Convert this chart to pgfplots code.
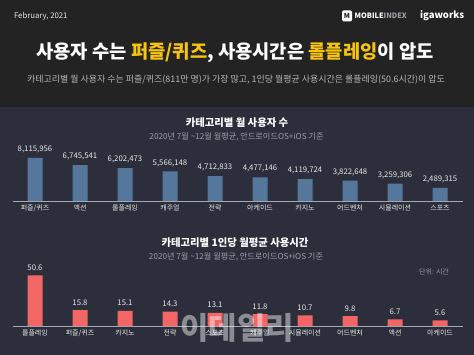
\documentclass[border=0pt]{standalone}
\usepackage{fontspec}
\setmainfont{Noto Sans CJK KR}
\usepackage{pgfplots}
\usepackage{pgfplotstable}
\pgfplotsset{compat=1.18}
\definecolor{hdr}{HTML}{232323}
\definecolor{panel}{HTML}{2C2F3B}
\definecolor{barblue}{HTML}{56779C}
\definecolor{barred}{HTML}{F26666}
\definecolor{basec}{HTML}{A3A8B2}
\definecolor{txtc}{HTML}{E6E6E6}
\definecolor{subc}{HTML}{9C9EA6}
\definecolor{yel}{HTML}{F6C40F}

\pgfplotstableread{
x y lab
0 8115956 8,115,956
1 6745541 6,745,541
2 6202473 6,202,473
3 5566148 5,566,148
4 4712833 4,712,833
5 4477146 4,477,146
6 4119724 4,119,724
7 3822648 3,822,648
8 3259306 3,259,306
9 2489315 2,489,315
}\usersdata

\pgfplotstableread{
x y
0 50.6
1 15.8
2 15.1
3 14.3
4 13.1
5 11.8
6 10.7
7 9.8
8 6.7
9 5.6
}\hoursdata

\pgfplotsset{
  mybars/.style={
    scale only axis, width=450bp,
    xmin=-0.5, xmax=9.5, ymin=0,
    enlargelimits=false,
    axis x line=bottom, axis y line=none,
    x axis line style={-, draw=basec, line width=0.7bp},
    xtick={0,...,9}, major tick length=0,
    xticklabel style={font=\fontsize{7}{8}\selectfont, text=txtc, yshift=-0.3bp},
    ybar, bar width=15bp,
    clip=false,
    every node near coord/.append style={font=\fontsize{7.8}{9}\selectfont, text=txtc, yshift=1.5bp},
  }
}

\begin{document}
\begin{tikzpicture}
\fill[hdr] (0bp,0bp) rectangle (474bp,355bp);
\fill[panel] (0bp,0bp) rectangle (474bp,248bp);

% header
\node[anchor=west, text=txtc, font=\fontsize{7.8}{9}\selectfont] at (10.5bp,339bp) {February, 2021};
\fill[white, rounded corners=1.5bp] (342bp,333.5bp) rectangle (352bp,344.5bp);
\node[text=hdr, font=\fontsize{7}{8}\selectfont\bfseries] at (347bp,339bp) {M};
\node[anchor=west, inner sep=0, text=white, font=\fontsize{7.4}{8}\selectfont\bfseries] at (354.5bp,339bp) {MOBILE\textcolor{subc}{INDEX}};
\node[anchor=west, inner sep=0, text=white, font=\fontsize{9.5}{10}\selectfont\bfseries] at (420bp,339.5bp) {igaworks};

\node[text=white, font=\fontsize{18.8}{22}\selectfont\bfseries] at (235bp,302.5bp)
  {사용자 수는 \textcolor{yel}{퍼즐/퀴즈}, 사용시간은 \textcolor{yel}{롤플레잉}이 압도};
\node[text=subc!75!white, font=\fontsize{9}{10}\selectfont] at (236bp,275bp)
  {카테고리별 월 사용자 수는 퍼즐/퀴즈(811만 명)가 가장 많고, 1인당 월평균 사용시간은 롤플레잉(50.6시간)이 압도};

% chart 1 titles
\node[text=white, font=\fontsize{10.4}{12}\selectfont\bfseries] at (237bp,232bp) {카테고리별 월 사용자 수};
\node[text=subc, font=\fontsize{8.2}{9}\selectfont] at (236.5bp,218bp) {2020년 7월 \textasciitilde12월 월평균, 안드로이드OS+iOS 기준};

\begin{axis}[mybars, at={(12.5bp,154bp)}, anchor=south west, height=53bp, ymax=10000000,
  xticklabels={퍼즐/퀴즈,액션,롤플레잉,캐주얼,전략,아케이드,카지노,어드벤처,시뮬레이션,스포츠},
  nodes near coords, point meta=explicit symbolic]
\addplot[fill=barblue, draw=none] table[x=x, y=y, meta=lab] {\usersdata};
\end{axis}

% chart 2 titles
\node[text=white, font=\fontsize{10.4}{12}\selectfont\bfseries] at (235bp,112bp) {카테고리별 1인당 월평균 사용시간};
\node[text=subc, font=\fontsize{8.2}{9}\selectfont] at (236bp,98bp) {2020년 7월 \textasciitilde12월 월평균, 안드로이드OS+iOS 기준};
\node[text=subc, font=\fontsize{7}{8}\selectfont] at (434bp,83bp) {단위: 시간};

\begin{axis}[mybars, at={(12.5bp,29bp)}, anchor=south west, height=60bp, ymax=60,
  xticklabels={롤플레잉,퍼즐/퀴즈,카지노,전략,스포츠,캐주얼,시뮬레이션,어드벤처,액션,아케이드},
  nodes near coords, point meta=y,
  /pgf/number format/assume math mode=true,
  /pgf/number format/.cd, fixed, fixed zerofill, precision=1]
\addplot[fill=barred, draw=none] table[x=x, y=y] {\hoursdata};
\end{axis}

% watermark
\node[text=white, opacity=0.45, font=\fontsize{31}{34}\selectfont\bfseries] at (237bp,27bp) {이데일리};

\pgfresetboundingbox
\useasboundingbox (0bp,0bp) rectangle (474bp,355bp);
\end{tikzpicture}
\end{document}
